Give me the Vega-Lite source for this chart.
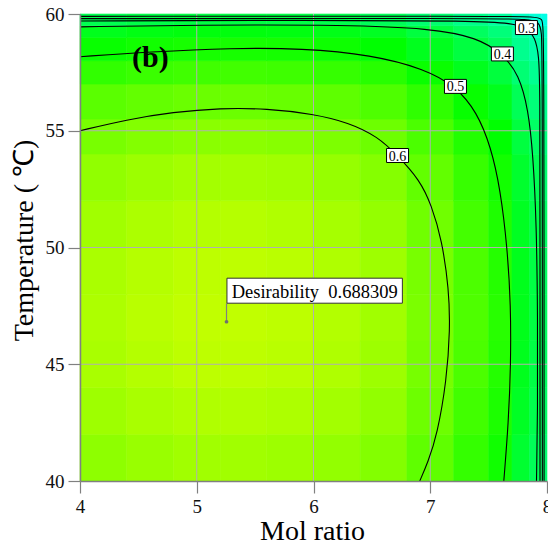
{
"$schema":"https://vega.github.io/schema/vega-lite/v6.json",
"width":467,"height":467,
"autosize":"none",
"padding":{"left":80,"top":14,"right":1,"bottom":64},
"background":"white",
"config":{"view":{"stroke":null}},
"datasets":{
"cells":[
{"x":4,"xe":4.4,"t":40,"te":42,"d":0.632},{"x":4.4,"xe":4.8,"t":40,"te":42,"d":0.644},{"x":4.8,"xe":5.2,"t":40,"te":42,"d":0.652},{"x":5.2,"xe":5.6,"t":40,"te":42,"d":0.653},{"x":5.6,"xe":6,"t":40,"te":42,"d":0.648},{"x":6,"xe":6.4,"t":40,"te":42,"d":0.638},{"x":6.4,"xe":6.8,"t":40,"te":42,"d":0.620},{"x":6.8,"xe":7.2,"t":40,"te":42,"d":0.582},{"x":7.2,"xe":7.5,"t":40,"te":42,"d":0.536},{"x":7.5,"xe":7.7,"t":40,"te":42,"d":0.497},{"x":7.7,"xe":7.85,"t":40,"te":42,"d":0.431},{"x":7.85,"xe":7.95,"t":40,"te":42,"d":0.392},{"x":7.95,"xe":8,"t":40,"te":42,"d":0.366},
{"x":4,"xe":4.4,"t":42,"te":44,"d":0.649},{"x":4.4,"xe":4.8,"t":42,"te":44,"d":0.661},{"x":4.8,"xe":5.2,"t":42,"te":44,"d":0.669},{"x":5.2,"xe":5.6,"t":42,"te":44,"d":0.670},{"x":5.6,"xe":6,"t":42,"te":44,"d":0.665},{"x":6,"xe":6.4,"t":42,"te":44,"d":0.655},{"x":6.4,"xe":6.8,"t":42,"te":44,"d":0.636},{"x":6.8,"xe":7.2,"t":42,"te":44,"d":0.597},{"x":7.2,"xe":7.5,"t":42,"te":44,"d":0.550},{"x":7.5,"xe":7.7,"t":42,"te":44,"d":0.510},{"x":7.7,"xe":7.85,"t":42,"te":44,"d":0.443},{"x":7.85,"xe":7.95,"t":42,"te":44,"d":0.402},{"x":7.95,"xe":8,"t":42,"te":44,"d":0.376},
{"x":4,"xe":4.4,"t":44,"te":46,"d":0.661},{"x":4.4,"xe":4.8,"t":44,"te":46,"d":0.673},{"x":4.8,"xe":5.2,"t":44,"te":46,"d":0.682},{"x":5.2,"xe":5.6,"t":44,"te":46,"d":0.683},{"x":5.6,"xe":6,"t":44,"te":46,"d":0.678},{"x":6,"xe":6.4,"t":44,"te":46,"d":0.667},{"x":6.4,"xe":6.8,"t":44,"te":46,"d":0.648},{"x":6.8,"xe":7.2,"t":44,"te":46,"d":0.608},{"x":7.2,"xe":7.5,"t":44,"te":46,"d":0.560},{"x":7.5,"xe":7.7,"t":44,"te":46,"d":0.519},{"x":7.7,"xe":7.85,"t":44,"te":46,"d":0.451},{"x":7.85,"xe":7.95,"t":44,"te":46,"d":0.410},{"x":7.95,"xe":8,"t":44,"te":46,"d":0.383},
{"x":4,"xe":4.4,"t":46,"te":48,"d":0.665},{"x":4.4,"xe":4.8,"t":46,"te":48,"d":0.678},{"x":4.8,"xe":5.2,"t":46,"te":48,"d":0.687},{"x":5.2,"xe":5.6,"t":46,"te":48,"d":0.687},{"x":5.6,"xe":6,"t":46,"te":48,"d":0.683},{"x":6,"xe":6.4,"t":46,"te":48,"d":0.672},{"x":6.4,"xe":6.8,"t":46,"te":48,"d":0.652},{"x":6.8,"xe":7.2,"t":46,"te":48,"d":0.612},{"x":7.2,"xe":7.5,"t":46,"te":48,"d":0.564},{"x":7.5,"xe":7.7,"t":46,"te":48,"d":0.523},{"x":7.7,"xe":7.85,"t":46,"te":48,"d":0.454},{"x":7.85,"xe":7.95,"t":46,"te":48,"d":0.413},{"x":7.95,"xe":8,"t":46,"te":48,"d":0.385},
{"x":4,"xe":4.4,"t":48,"te":50,"d":0.662},{"x":4.4,"xe":4.8,"t":48,"te":50,"d":0.674},{"x":4.8,"xe":5.2,"t":48,"te":50,"d":0.683},{"x":5.2,"xe":5.6,"t":48,"te":50,"d":0.684},{"x":5.6,"xe":6,"t":48,"te":50,"d":0.679},{"x":6,"xe":6.4,"t":48,"te":50,"d":0.668},{"x":6.4,"xe":6.8,"t":48,"te":50,"d":0.649},{"x":6.8,"xe":7.2,"t":48,"te":50,"d":0.609},{"x":7.2,"xe":7.5,"t":48,"te":50,"d":0.561},{"x":7.5,"xe":7.7,"t":48,"te":50,"d":0.520},{"x":7.7,"xe":7.85,"t":48,"te":50,"d":0.452},{"x":7.85,"xe":7.95,"t":48,"te":50,"d":0.411},{"x":7.95,"xe":8,"t":48,"te":50,"d":0.383},
{"x":4,"xe":4.4,"t":50,"te":52,"d":0.652},{"x":4.4,"xe":4.8,"t":50,"te":52,"d":0.664},{"x":4.8,"xe":5.2,"t":50,"te":52,"d":0.673},{"x":5.2,"xe":5.6,"t":50,"te":52,"d":0.674},{"x":5.6,"xe":6,"t":50,"te":52,"d":0.669},{"x":6,"xe":6.4,"t":50,"te":52,"d":0.658},{"x":6.4,"xe":6.8,"t":50,"te":52,"d":0.639},{"x":6.8,"xe":7.2,"t":50,"te":52,"d":0.600},{"x":7.2,"xe":7.5,"t":50,"te":52,"d":0.553},{"x":7.5,"xe":7.7,"t":50,"te":52,"d":0.512},{"x":7.7,"xe":7.85,"t":50,"te":52,"d":0.445},{"x":7.85,"xe":7.95,"t":50,"te":52,"d":0.405},{"x":7.95,"xe":8,"t":50,"te":52,"d":0.378},
{"x":4,"xe":4.4,"t":52,"te":54,"d":0.635},{"x":4.4,"xe":4.8,"t":52,"te":54,"d":0.647},{"x":4.8,"xe":5.2,"t":52,"te":54,"d":0.656},{"x":5.2,"xe":5.6,"t":52,"te":54,"d":0.656},{"x":5.6,"xe":6,"t":52,"te":54,"d":0.652},{"x":6,"xe":6.4,"t":52,"te":54,"d":0.641},{"x":6.4,"xe":6.8,"t":52,"te":54,"d":0.623},{"x":6.8,"xe":7.2,"t":52,"te":54,"d":0.585},{"x":7.2,"xe":7.5,"t":52,"te":54,"d":0.539},{"x":7.5,"xe":7.7,"t":52,"te":54,"d":0.499},{"x":7.7,"xe":7.85,"t":52,"te":54,"d":0.434},{"x":7.85,"xe":7.95,"t":52,"te":54,"d":0.394},{"x":7.95,"xe":8,"t":52,"te":54,"d":0.368},
{"x":4,"xe":4.4,"t":54,"te":55.5,"d":0.609},{"x":4.4,"xe":4.8,"t":54,"te":55.5,"d":0.620},{"x":4.8,"xe":5.2,"t":54,"te":55.5,"d":0.628},{"x":5.2,"xe":5.6,"t":54,"te":55.5,"d":0.629},{"x":5.6,"xe":6,"t":54,"te":55.5,"d":0.625},{"x":6,"xe":6.4,"t":54,"te":55.5,"d":0.614},{"x":6.4,"xe":6.8,"t":54,"te":55.5,"d":0.597},{"x":6.8,"xe":7.2,"t":54,"te":55.5,"d":0.560},{"x":7.2,"xe":7.5,"t":54,"te":55.5,"d":0.516},{"x":7.5,"xe":7.7,"t":54,"te":55.5,"d":0.479},{"x":7.7,"xe":7.85,"t":54,"te":55.5,"d":0.416},{"x":7.85,"xe":7.95,"t":54,"te":55.5,"d":0.378},{"x":7.95,"xe":8,"t":54,"te":55.5,"d":0.353},
{"x":4,"xe":4.4,"t":55.5,"te":57,"d":0.576},{"x":4.4,"xe":4.8,"t":55.5,"te":57,"d":0.586},{"x":4.8,"xe":5.2,"t":55.5,"te":57,"d":0.594},{"x":5.2,"xe":5.6,"t":55.5,"te":57,"d":0.595},{"x":5.6,"xe":6,"t":55.5,"te":57,"d":0.590},{"x":6,"xe":6.4,"t":55.5,"te":57,"d":0.581},{"x":6.4,"xe":6.8,"t":55.5,"te":57,"d":0.564},{"x":6.8,"xe":7.2,"t":55.5,"te":57,"d":0.530},{"x":7.2,"xe":7.5,"t":55.5,"te":57,"d":0.488},{"x":7.5,"xe":7.7,"t":55.5,"te":57,"d":0.452},{"x":7.7,"xe":7.85,"t":55.5,"te":57,"d":0.393},{"x":7.85,"xe":7.95,"t":55.5,"te":57,"d":0.357},{"x":7.95,"xe":8,"t":55.5,"te":57,"d":0.333},
{"x":4,"xe":4.4,"t":57,"te":58,"d":0.532},{"x":4.4,"xe":4.8,"t":57,"te":58,"d":0.542},{"x":4.8,"xe":5.2,"t":57,"te":58,"d":0.549},{"x":5.2,"xe":5.6,"t":57,"te":58,"d":0.550},{"x":5.6,"xe":6,"t":57,"te":58,"d":0.546},{"x":6,"xe":6.4,"t":57,"te":58,"d":0.537},{"x":6.4,"xe":6.8,"t":57,"te":58,"d":0.522},{"x":6.8,"xe":7.2,"t":57,"te":58,"d":0.490},{"x":7.2,"xe":7.5,"t":57,"te":58,"d":0.451},{"x":7.5,"xe":7.7,"t":57,"te":58,"d":0.418},{"x":7.7,"xe":7.85,"t":57,"te":58,"d":0.363},{"x":7.85,"xe":7.95,"t":57,"te":58,"d":0.330},{"x":7.95,"xe":8,"t":57,"te":58,"d":0.308},
{"x":4,"xe":4.4,"t":58,"te":59,"d":0.489},{"x":4.4,"xe":4.8,"t":58,"te":59,"d":0.498},{"x":4.8,"xe":5.2,"t":58,"te":59,"d":0.505},{"x":5.2,"xe":5.6,"t":58,"te":59,"d":0.505},{"x":5.6,"xe":6,"t":58,"te":59,"d":0.502},{"x":6,"xe":6.4,"t":58,"te":59,"d":0.494},{"x":6.4,"xe":6.8,"t":58,"te":59,"d":0.479},{"x":6.8,"xe":7.2,"t":58,"te":59,"d":0.450},{"x":7.2,"xe":7.5,"t":58,"te":59,"d":0.415},{"x":7.5,"xe":7.7,"t":58,"te":59,"d":0.384},{"x":7.7,"xe":7.85,"t":58,"te":59,"d":0.334},{"x":7.85,"xe":7.95,"t":58,"te":59,"d":0.303},{"x":7.95,"xe":8,"t":58,"te":59,"d":0.283},
{"x":4,"xe":4.4,"t":59,"te":59.5,"d":0.452},{"x":4.4,"xe":4.8,"t":59,"te":59.5,"d":0.461},{"x":4.8,"xe":5.2,"t":59,"te":59.5,"d":0.467},{"x":5.2,"xe":5.6,"t":59,"te":59.5,"d":0.467},{"x":5.6,"xe":6,"t":59,"te":59.5,"d":0.464},{"x":6,"xe":6.4,"t":59,"te":59.5,"d":0.457},{"x":6.4,"xe":6.8,"t":59,"te":59.5,"d":0.444},{"x":6.8,"xe":7.2,"t":59,"te":59.5,"d":0.416},{"x":7.2,"xe":7.5,"t":59,"te":59.5,"d":0.384},{"x":7.5,"xe":7.7,"t":59,"te":59.5,"d":0.356},{"x":7.7,"xe":7.85,"t":59,"te":59.5,"d":0.309},{"x":7.85,"xe":7.95,"t":59,"te":59.5,"d":0.281},{"x":7.95,"xe":8,"t":59,"te":59.5,"d":0.262},
{"x":4,"xe":4.4,"t":59.5,"te":60,"d":0.399},{"x":4.4,"xe":4.8,"t":59.5,"te":60,"d":0.407},{"x":4.8,"xe":5.2,"t":59.5,"te":60,"d":0.412},{"x":5.2,"xe":5.6,"t":59.5,"te":60,"d":0.412},{"x":5.6,"xe":6,"t":59.5,"te":60,"d":0.410},{"x":6,"xe":6.4,"t":59.5,"te":60,"d":0.403},{"x":6.4,"xe":6.8,"t":59.5,"te":60,"d":0.391},{"x":6.8,"xe":7.2,"t":59.5,"te":60,"d":0.367},{"x":7.2,"xe":7.5,"t":59.5,"te":60,"d":0.339},{"x":7.5,"xe":7.7,"t":59.5,"te":60,"d":0.314},{"x":7.7,"xe":7.85,"t":59.5,"te":60,"d":0.272},{"x":7.85,"xe":7.95,"t":59.5,"te":60,"d":0.248},{"x":7.95,"xe":8,"t":59.5,"te":60,"d":0.231}
],
"grid":[
{"x":5,"xe":5,"t":40,"te":60},{"x":6,"xe":6,"t":40,"te":60},{"x":7,"xe":7,"t":40,"te":60},
{"x":4,"xe":8,"t":45,"te":45},{"x":4,"xe":8,"t":50,"te":50},{"x":4,"xe":8,"t":55,"te":55}
],
"contours":[
{"level":"0.6","i":0,"x":4.00,"t":55.00},{"level":"0.6","i":1,"x":4.40,"t":55.48},{"level":"0.6","i":2,"x":4.80,"t":55.80},{"level":"0.6","i":3,"x":5.20,"t":55.97},{"level":"0.6","i":4,"x":5.60,"t":55.95},{"level":"0.6","i":5,"x":6.00,"t":55.72},{"level":"0.6","i":6,"x":6.30,"t":55.35},{"level":"0.6","i":7,"x":6.55,"t":54.75},{"level":"0.6","i":8,"x":6.72,"t":53.94},{"level":"0.6","i":9,"x":6.91,"t":52.89},{"level":"0.6","i":10,"x":7.01,"t":51.82},{"level":"0.6","i":11,"x":7.10,"t":50.32},{"level":"0.6","i":12,"x":7.16,"t":48.20},{"level":"0.6","i":13,"x":7.17,"t":46.50},{"level":"0.6","i":14,"x":7.14,"t":44.30},{"level":"0.6","i":15,"x":7.06,"t":42.00},{"level":"0.6","i":16,"x":6.98,"t":40.80},{"level":"0.6","i":17,"x":6.91,"t":40.00},
{"level":"0.5","i":0,"x":4.00,"t":58.17},{"level":"0.5","i":1,"x":4.60,"t":58.38},{"level":"0.5","i":2,"x":5.30,"t":58.54},{"level":"0.5","i":3,"x":5.90,"t":58.53},{"level":"0.5","i":4,"x":6.50,"t":58.25},{"level":"0.5","i":5,"x":6.95,"t":57.65},{"level":"0.5","i":6,"x":7.22,"t":56.90},{"level":"0.5","i":7,"x":7.40,"t":55.80},{"level":"0.5","i":8,"x":7.52,"t":54.30},{"level":"0.5","i":9,"x":7.60,"t":52.50},{"level":"0.5","i":10,"x":7.66,"t":50.00},{"level":"0.5","i":11,"x":7.69,"t":47.50},{"level":"0.5","i":12,"x":7.69,"t":45.00},{"level":"0.5","i":13,"x":7.67,"t":42.50},{"level":"0.5","i":14,"x":7.63,"t":40.00},
{"level":"0.4","i":0,"x":4.00,"t":59.45},{"level":"0.4","i":1,"x":5.00,"t":59.53},{"level":"0.4","i":2,"x":6.30,"t":59.53},{"level":"0.4","i":3,"x":7.00,"t":59.38},{"level":"0.4","i":4,"x":7.40,"t":59.00},{"level":"0.4","i":5,"x":7.62,"t":58.29},{"level":"0.4","i":6,"x":7.76,"t":57.40},{"level":"0.4","i":7,"x":7.84,"t":55.90},{"level":"0.4","i":8,"x":7.88,"t":54.00},{"level":"0.4","i":9,"x":7.91,"t":51.00},{"level":"0.4","i":10,"x":7.92,"t":47.00},{"level":"0.4","i":11,"x":7.92,"t":43.00},{"level":"0.4","i":12,"x":7.91,"t":40.00},
{"level":"0.3","i":0,"x":4.00,"t":59.70},{"level":"0.3","i":1,"x":6.00,"t":59.74},{"level":"0.3","i":2,"x":7.40,"t":59.71},{"level":"0.3","i":3,"x":7.70,"t":59.60},{"level":"0.3","i":4,"x":7.82,"t":59.42},{"level":"0.3","i":5,"x":7.90,"t":59.00},{"level":"0.3","i":6,"x":7.93,"t":58.20},{"level":"0.3","i":7,"x":7.94,"t":57.00},{"level":"0.3","i":8,"x":7.94,"t":50.00},{"level":"0.3","i":9,"x":7.94,"t":40.00},
{"level":"0.2","i":0,"x":4.00,"t":59.80},{"level":"0.2","i":1,"x":7.50,"t":59.82},{"level":"0.2","i":2,"x":7.85,"t":59.78},{"level":"0.2","i":3,"x":7.93,"t":59.65},{"level":"0.2","i":4,"x":7.955,"t":59.30},{"level":"0.2","i":5,"x":7.96,"t":58.00},{"level":"0.2","i":6,"x":7.96,"t":40.00},
{"level":"0.1","i":0,"x":4.00,"t":59.90},{"level":"0.1","i":1,"x":7.60,"t":59.91},{"level":"0.1","i":2,"x":7.90,"t":59.88},{"level":"0.1","i":3,"x":7.96,"t":59.80},{"level":"0.1","i":4,"x":7.975,"t":59.50},{"level":"0.1","i":5,"x":7.975,"t":40.00}
],
"labels":[
{"x":6.72,"t":53.94,"label":"0.6"},{"x":7.216,"t":56.90,"label":"0.5"},{"x":7.618,"t":58.29,"label":"0.4"},{"x":7.824,"t":59.42,"label":"0.3"}
],
"optimum":[{"x":5.255,"xe":5.255,"t":46.82,"te":47.61}],
"dbox":[{"x":6.01,"t":48.15,"label":"Desirability\u00a0\u00a00.688309"}],
"panel":[{"x":4.603,"t":57.73,"label":"(b)"}]
},
"encoding":{
"x":{"field":"x","type":"quantitative","scale":{"domain":[4,8],"nice":false,"zero":false},
"axis":{"title":"Mol ratio","values":[4,5,6,7,8],"grid":false,"tickSize":12,"tickColor":"#808080","tickWidth":1.2,"domainColor":"#808080","domainWidth":1.5,"labelFont":"Liberation Serif, Times New Roman, serif","labelFontSize":19,"labelColor":"#111","labelPadding":4,"labelFlush":false,"labelOverlap":false,"titleFont":"Liberation Serif, Times New Roman, serif","titleFontSize":28,"titleFontWeight":"normal","titleColor":"#000","titleX":232,"titleY":58,"titleBaseline":"alphabetic","titleAlign":"center","zindex":1}},
"y":{"field":"t","type":"quantitative","scale":{"domain":[40,60],"nice":false,"zero":false},
"axis":{"title":"Temperature ( ℃)","values":[40,45,50,55,60],"grid":false,"tickSize":12,"tickColor":"#808080","tickWidth":1.2,"domainColor":"#808080","domainWidth":1.5,"labelFont":"Liberation Serif, Times New Roman, serif","labelFontSize":19,"labelColor":"#111","labelPadding":4,"labelFlush":false,"labelOverlap":false,"titleFont":"Liberation Serif, Times New Roman, serif","titleFontSize":28,"titleFontWeight":"normal","titleColor":"#000","titleX":-48,"titleY":226,"titleAngle":270,"titleBaseline":"alphabetic","titleAlign":"center","zindex":1}}
},
"layer":[
{"data":{"name":"cells"},"mark":{"type":"rect","strokeWidth":0.6},
 "encoding":{"x2":{"field":"xe"},"y2":{"field":"te"},
 "color":{"field":"d","type":"quantitative","scale":{"domain":[0.2,0.35,0.48,0.6,0.69],"range":["#00ffff","#00ff80","#00ff00","#70ff00","#c4ff00"],"interpolate":"rgb"},"legend":null},
 "stroke":{"field":"d","type":"quantitative","scale":{"domain":[0.2,0.35,0.48,0.6,0.69],"range":["#00ffff","#00ff80","#00ff00","#70ff00","#c4ff00"],"interpolate":"rgb"},"legend":null}}},
{"data":{"name":"grid"},"mark":{"type":"rule","color":"#b0b0b0","strokeWidth":1},
 "encoding":{"x2":{"field":"xe"},"y2":{"field":"te"}}},
{"data":{"name":"contours"},"mark":{"type":"line","color":"#000","strokeWidth":1.1,"interpolate":"basis"},
 "encoding":{"detail":{"field":"level"},"order":{"field":"i","type":"quantitative"}}},
{"data":{"name":"labels"},"mark":{"type":"point","shape":"M-1,-0.636L1,-0.636L1,0.636L-1,0.636Z","size":484,"filled":true,"fill":"#ffffff","stroke":"#000","strokeWidth":1,"opacity":1},
 "encoding":{}},
{"data":{"name":"labels"},"mark":{"type":"text","font":"Liberation Serif, Times New Roman, serif","fontSize":14,"align":"center","baseline":"middle","color":"#000","dy":1},
 "encoding":{"text":{"field":"label"}}},
{"data":{"name":"optimum"},"mark":{"type":"rule","color":"#808080","strokeWidth":1.2},
 "encoding":{"x2":{"field":"xe"},"y2":{"field":"te"}}},
{"data":{"name":"optimum"},"mark":{"type":"point","shape":"circle","size":14,"filled":true,"color":"#707070","opacity":1},
 "encoding":{}},
{"data":{"name":"dbox"},"mark":{"type":"point","shape":"M-1,-0.1425L1,-0.1425L1,0.1425L-1,0.1425Z","size":30765,"filled":true,"fill":"#ffffff","stroke":"#333","strokeWidth":1,"opacity":1},
 "encoding":{}},
{"data":{"name":"dbox"},"mark":{"type":"text","font":"Liberation Serif, Times New Roman, serif","fontSize":18.5,"align":"center","baseline":"middle","color":"#000","dy":1},
 "encoding":{"text":{"field":"label"}}},
{"data":{"name":"panel"},"mark":{"type":"text","font":"Liberation Serif, Times New Roman, serif","fontSize":30,"fontWeight":"bold","align":"center","baseline":"alphabetic","color":"#000"},
 "encoding":{"text":{"field":"label"}}}
]
}
